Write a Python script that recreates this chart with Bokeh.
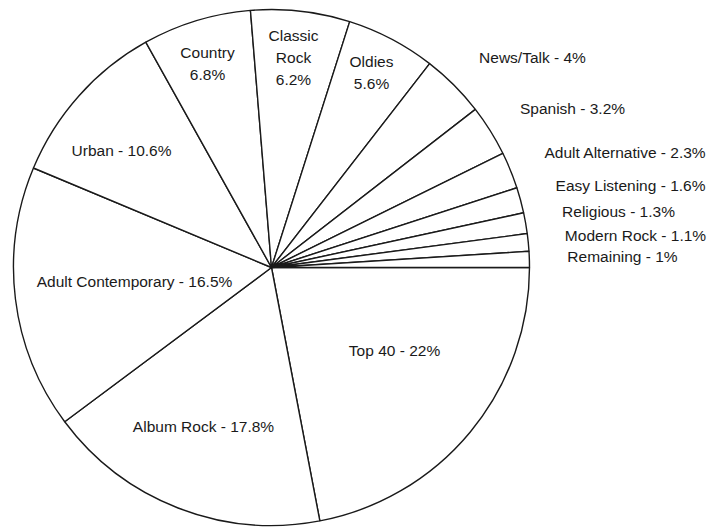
import numpy as np
from bokeh.plotting import figure
from bokeh.models import ColumnDataSource, Range1d
from bokeh.core.properties import value
from bokeh.embed import file_html
from bokeh.resources import INLINE

# ---- data ----
categories = ["Top 40", "Album Rock", "Adult Contemporary", "Urban", "Country",
              "Classic Rock", "Oldies", "News/Talk", "Spanish", "Adult Alternative",
              "Easy Listening", "Religious", "Modern Rock", "Remaining"]
shares = [22, 17.8, 16.5, 10.6, 6.8, 6.2, 5.6, 4, 3.2, 2.3, 1.6, 1.3, 1.1, 1]
stacked = ["Country", "Classic Rock", "Oldies"]

# ---- layout (screen pixels, y measured from top) ----
W, H = 713, 528
cx, cy, R = 271, 267, 258
label_x = [394, 203, 134, 121, 207, 293, 371, 532, 572, 625, 630, 618, 635, 622]
label_y = [350, 426, 281, 150, 63, 57, 72, 57, 108, 152, 185, 211, 235, 256]

labels = []
for c, s in zip(categories, shares):
    if c in stacked:
        labels.append(c.replace(" ", "\n") + "\n" + f"{s:g}%")
    else:
        labels.append(f"{c} - {s:g}%")

frac = np.array(shares, dtype=float) / float(np.sum(shares))
cum = np.cumsum(frac)
starts = -np.concatenate([[0.0], cum[:-1]]) * 2 * np.pi
ends = -cum * 2 * np.pi

wsrc = ColumnDataSource(dict(start=ends, end=starts))
tsrc = ColumnDataSource(dict(x=label_x, y=[H - v for v in label_y], text=labels))

p = figure(width=W, height=H, output_backend="svg", toolbar_location=None,
           x_range=Range1d(0, W), y_range=Range1d(0, H), min_border=0)
p.axis.visible = False
p.grid.visible = False
p.outline_line_color = None
p.background_fill_color = "white"
p.border_fill_color = "white"

p.wedge(x=cx, y=H - cy, radius=R, start_angle="start", end_angle="end",
        direction="anticlock", source=wsrc, fill_color="white",
        line_color="#1a1a1a", line_width=1.4)

p.text(x="x", y="y", text="text", source=tsrc, text_align="center",
       text_baseline="middle", text_font=value("Liberation Sans"),
       text_font_size="15.5px", text_color="#1a1a1a", text_line_height=1.3)

open("out.html", "w").write(file_html(p, INLINE))
